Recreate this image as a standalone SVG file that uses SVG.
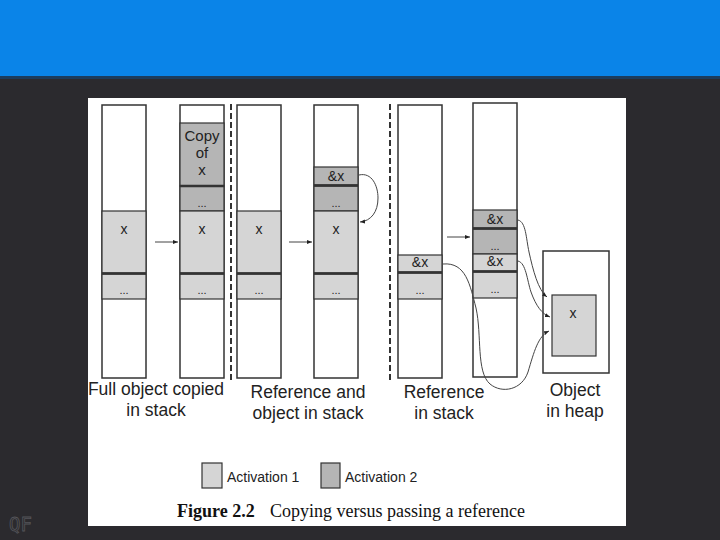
<svg xmlns="http://www.w3.org/2000/svg" width="720" height="540" viewBox="0 0 720 540">
<defs>
<style>
.col{fill:#fff;stroke:#333;stroke-width:1.5}
.a1{fill:#d5d5d5;stroke:#333;stroke-width:1.2}
.a2{fill:#b5b5b5;stroke:#333;stroke-width:1.2}
.thick{stroke:#333;stroke-width:2.5}
.t{font-family:"Liberation Sans",Arial,sans-serif;fill:#222;text-anchor:middle}
.c{font-size:14px}
.d{font-size:11px}
.lab{font-family:"Liberation Sans",Arial,sans-serif;font-size:17.5px;fill:#222;text-anchor:middle}
.dash{stroke:#333;stroke-width:2;stroke-dasharray:6,3}
.conn{fill:none;stroke:#444;stroke-width:1}
</style>
<marker id="ah" viewBox="0 0 10 10" refX="10" refY="5" markerWidth="5" markerHeight="5" orient="auto" markerUnits="userSpaceOnUse">
<path d="M0,1 L10,5 L0,9 Z" fill="#222"/>
</marker>
</defs>
<rect x="0" y="0" width="720" height="540" fill="#2b2a2e"/>
<rect x="0" y="0" width="720" height="78" fill="#0a84e8"/>
<rect x="0" y="76" width="720" height="3" fill="#1c3c5c"/>
<rect x="88" y="98" width="538" height="428" fill="#fff"/>
<text x="9" y="531" font-family="'DejaVu Sans Mono',monospace" font-size="19" fill="none" stroke="#55555a" stroke-width="0.8">QF</text>

<g id="stack1">
<rect class="col" x="102" y="105" width="44" height="273"/>
<rect class="a1" x="102" y="211" width="44" height="62"/>
<rect class="a1" x="102" y="274" width="44" height="25"/>
<line class="thick" x1="102" y1="273.5" x2="146" y2="273.5"/>
<text class="t c" x="124" y="234">x</text>
<text class="t d" x="124" y="294">...</text>
</g>
<g id="stack2">
<rect class="col" x="180" y="105" width="44" height="273"/>
<rect class="a2" x="180" y="123" width="44" height="63"/>
<rect class="a2" x="180" y="186" width="44" height="25"/>
<rect class="a1" x="180" y="211" width="44" height="62"/>
<rect class="a1" x="180" y="274" width="44" height="25"/>
<line class="thick" x1="180" y1="186" x2="224" y2="186"/>
<line class="thick" x1="180" y1="273.5" x2="224" y2="273.5"/>
<text class="t" font-size="15" x="202" y="141">Copy</text>
<text class="t" font-size="15" x="202" y="158">of</text>
<text class="t" font-size="15" x="202" y="175">x</text>
<text class="t d" x="202" y="207">...</text>
<text class="t c" x="202" y="234">x</text>
<text class="t d" x="202" y="294">...</text>
</g>
<g id="stack3">
<rect class="col" x="237" y="105" width="44" height="273"/>
<rect class="a1" x="237" y="211" width="44" height="62"/>
<rect class="a1" x="237" y="274" width="44" height="25"/>
<line class="thick" x1="237" y1="273.5" x2="281" y2="273.5"/>
<text class="t c" x="259" y="234">x</text>
<text class="t d" x="259" y="294">...</text>
</g>
<g id="stack4">
<rect class="col" x="314" y="105" width="44" height="273"/>
<rect class="a2" x="314" y="167" width="44" height="18"/>
<rect class="a2" x="314" y="186" width="44" height="25"/>
<rect class="a1" x="314" y="211" width="44" height="62"/>
<rect class="a1" x="314" y="274" width="44" height="25"/>
<line class="thick" x1="314" y1="185.5" x2="358" y2="185.5"/>
<line class="thick" x1="314" y1="273.5" x2="358" y2="273.5"/>
<text class="t" font-size="14" x="336" y="181">&amp;x</text>
<text class="t d" x="336" y="207">...</text>
<text class="t c" x="336" y="234">x</text>
<text class="t d" x="336" y="294">...</text>
</g>
<g id="stack5">
<rect class="col" x="398" y="105" width="44" height="273"/>
<rect class="a1" x="398" y="255" width="44" height="17"/>
<rect class="a1" x="398" y="273" width="44" height="26"/>
<line class="thick" x1="398" y1="272.5" x2="442" y2="272.5"/>
<text class="t" font-size="14" x="420" y="267">&amp;x</text>
<text class="t d" x="420" y="294">...</text>
</g>
<g id="stack6">
<rect class="col" x="473" y="103" width="44" height="274"/>
<rect class="a2" x="473" y="210" width="44" height="18"/>
<rect class="a2" x="473" y="229" width="44" height="25"/>
<rect class="a1" x="473" y="254" width="44" height="17"/>
<rect class="a1" x="473" y="272" width="44" height="26"/>
<line class="thick" x1="473" y1="228.5" x2="517" y2="228.5"/>
<line class="thick" x1="473" y1="271.5" x2="517" y2="271.5"/>
<text class="t" font-size="14" x="495" y="224">&amp;x</text>
<text class="t d" x="495" y="250">...</text>
<text class="t" font-size="14" x="495" y="266">&amp;x</text>
<text class="t d" x="495" y="293">...</text>
</g>
<g id="heap">
<rect class="col" x="543" y="251" width="66" height="122"/>
<rect class="a1" x="552" y="295" width="44" height="61" stroke-width="1.5"/>
<text class="t" font-size="14" x="573" y="318">x</text>
</g>

<g id="connectors">
<line class="dash" x1="231" y1="104" x2="231" y2="382"/>
<line class="dash" x1="390" y1="104" x2="390" y2="382" stroke-width="1.5"/>
<line class="conn" x1="155" y1="242" x2="178" y2="242" marker-end="url(#ah)"/>
<line class="conn" x1="289" y1="242" x2="312" y2="242" marker-end="url(#ah)"/>
<line class="conn" x1="447" y1="237" x2="470" y2="237" marker-end="url(#ah)"/>
<path class="conn" d="M359,175 C372,172 378,186 378,198 C378,212 371,221 360,222" marker-end="url(#ah)"/>
<path class="conn" d="M518,220 C526,222 526,238 529,252 C533,270 538,290 547,297" marker-end="url(#ah)"/>
<path class="conn" d="M518,261 C526,263 527,280 531,292 C536,306 542,314 550,317" marker-end="url(#ah)"/>
<path class="conn" d="M443,264 C466,262 470,285 476,308 C482,335 476,372 490,384 C502,394 522,390 528,372 C534,352 538,336 549,331" marker-end="url(#ah)"/>
</g>

<g id="labels">
<text class="lab" x="156" y="395">Full object copied</text>
<text class="lab" x="156" y="416">in stack</text>
<text class="lab" x="308" y="398">Reference and</text>
<text class="lab" x="308" y="419">object in stack</text>
<text class="lab" x="444" y="398">Reference</text>
<text class="lab" x="444" y="419">in stack</text>
<text class="lab" x="575" y="396">Object</text>
<text class="lab" x="575" y="417">in heap</text>
</g>

<g id="legend">
<rect class="a1" x="202" y="463" width="20" height="25" stroke-width="1.5"/>
<text x="227" y="482" font-family="'Liberation Sans',Arial,sans-serif" font-size="14" fill="#222">Activation 1</text>
<rect class="a2" x="321" y="463" width="19" height="25" stroke-width="1.5"/>
<text x="345" y="482" font-family="'Liberation Sans',Arial,sans-serif" font-size="14" fill="#222">Activation 2</text>
<text x="177" y="517" font-family="'Liberation Serif','Times New Roman',serif" font-size="18" fill="#111"><tspan font-weight="bold">Figure 2.2</tspan><tspan x="270">Copying versus passing a reference</tspan></text>
</g>
</svg>
